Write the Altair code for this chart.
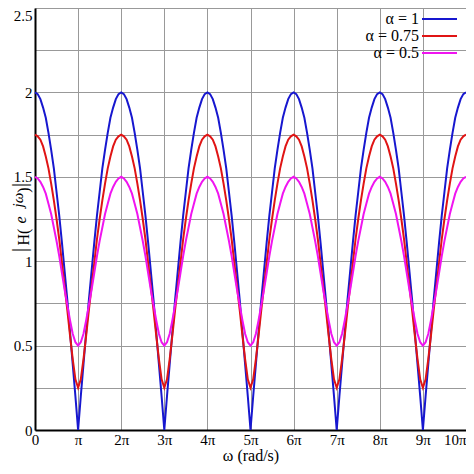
import altair as alt
import pandas as pd
import numpy as np

# omega / pi, sampled every pi/16 from 0 to 10pi
omega = np.arange(161) / 16

# |H(e^jw)|, two lines per 2pi period
mag_a1 = [
    2.00, 1.99, 1.96, 1.91, 1.85, 1.76, 1.66, 1.55, 1.41, 1.27, 1.11, 0.94, 0.77, 0.58, 0.39, 0.20,
    0.00, 0.20, 0.39, 0.58, 0.77, 0.94, 1.11, 1.27, 1.41, 1.55, 1.66, 1.76, 1.85, 1.91, 1.96, 1.99,
    2.00, 1.99, 1.96, 1.91, 1.85, 1.76, 1.66, 1.55, 1.41, 1.27, 1.11, 0.94, 0.77, 0.58, 0.39, 0.20,
    0.00, 0.20, 0.39, 0.58, 0.77, 0.94, 1.11, 1.27, 1.41, 1.55, 1.66, 1.76, 1.85, 1.91, 1.96, 1.99,
    2.00, 1.99, 1.96, 1.91, 1.85, 1.76, 1.66, 1.55, 1.41, 1.27, 1.11, 0.94, 0.77, 0.58, 0.39, 0.20,
    0.00, 0.20, 0.39, 0.58, 0.77, 0.94, 1.11, 1.27, 1.41, 1.55, 1.66, 1.76, 1.85, 1.91, 1.96, 1.99,
    2.00, 1.99, 1.96, 1.91, 1.85, 1.76, 1.66, 1.55, 1.41, 1.27, 1.11, 0.94, 0.77, 0.58, 0.39, 0.20,
    0.00, 0.20, 0.39, 0.58, 0.77, 0.94, 1.11, 1.27, 1.41, 1.55, 1.66, 1.76, 1.85, 1.91, 1.96, 1.99,
    2.00, 1.99, 1.96, 1.91, 1.85, 1.76, 1.66, 1.55, 1.41, 1.27, 1.11, 0.94, 0.77, 0.58, 0.39, 0.20,
    0.00, 0.20, 0.39, 0.58, 0.77, 0.94, 1.11, 1.27, 1.41, 1.55, 1.66, 1.76, 1.85, 1.91, 1.96, 1.99,
    2.00,
]
mag_a075 = [
    1.75, 1.74, 1.72, 1.68, 1.62, 1.55, 1.46, 1.36, 1.25, 1.13, 0.99, 0.85, 0.71, 0.56, 0.42, 0.30,
    0.25, 0.30, 0.42, 0.56, 0.71, 0.85, 0.99, 1.13, 1.25, 1.36, 1.46, 1.55, 1.62, 1.68, 1.72, 1.74,
    1.75, 1.74, 1.72, 1.68, 1.62, 1.55, 1.46, 1.36, 1.25, 1.13, 0.99, 0.85, 0.71, 0.56, 0.42, 0.30,
    0.25, 0.30, 0.42, 0.56, 0.71, 0.85, 0.99, 1.13, 1.25, 1.36, 1.46, 1.55, 1.62, 1.68, 1.72, 1.74,
    1.75, 1.74, 1.72, 1.68, 1.62, 1.55, 1.46, 1.36, 1.25, 1.13, 0.99, 0.85, 0.71, 0.56, 0.42, 0.30,
    0.25, 0.30, 0.42, 0.56, 0.71, 0.85, 0.99, 1.13, 1.25, 1.36, 1.46, 1.55, 1.62, 1.68, 1.72, 1.74,
    1.75, 1.74, 1.72, 1.68, 1.62, 1.55, 1.46, 1.36, 1.25, 1.13, 0.99, 0.85, 0.71, 0.56, 0.42, 0.30,
    0.25, 0.30, 0.42, 0.56, 0.71, 0.85, 0.99, 1.13, 1.25, 1.36, 1.46, 1.55, 1.62, 1.68, 1.72, 1.74,
    1.75, 1.74, 1.72, 1.68, 1.62, 1.55, 1.46, 1.36, 1.25, 1.13, 0.99, 0.85, 0.71, 0.56, 0.42, 0.30,
    0.25, 0.30, 0.42, 0.56, 0.71, 0.85, 0.99, 1.13, 1.25, 1.36, 1.46, 1.55, 1.62, 1.68, 1.72, 1.74,
    1.75,
]
mag_a05 = [
    1.50, 1.49, 1.47, 1.44, 1.40, 1.34, 1.28, 1.20, 1.12, 1.03, 0.93, 0.83, 0.74, 0.65, 0.57, 0.52,
    0.50, 0.52, 0.57, 0.65, 0.74, 0.83, 0.93, 1.03, 1.12, 1.20, 1.28, 1.34, 1.40, 1.44, 1.47, 1.49,
    1.50, 1.49, 1.47, 1.44, 1.40, 1.34, 1.28, 1.20, 1.12, 1.03, 0.93, 0.83, 0.74, 0.65, 0.57, 0.52,
    0.50, 0.52, 0.57, 0.65, 0.74, 0.83, 0.93, 1.03, 1.12, 1.20, 1.28, 1.34, 1.40, 1.44, 1.47, 1.49,
    1.50, 1.49, 1.47, 1.44, 1.40, 1.34, 1.28, 1.20, 1.12, 1.03, 0.93, 0.83, 0.74, 0.65, 0.57, 0.52,
    0.50, 0.52, 0.57, 0.65, 0.74, 0.83, 0.93, 1.03, 1.12, 1.20, 1.28, 1.34, 1.40, 1.44, 1.47, 1.49,
    1.50, 1.49, 1.47, 1.44, 1.40, 1.34, 1.28, 1.20, 1.12, 1.03, 0.93, 0.83, 0.74, 0.65, 0.57, 0.52,
    0.50, 0.52, 0.57, 0.65, 0.74, 0.83, 0.93, 1.03, 1.12, 1.20, 1.28, 1.34, 1.40, 1.44, 1.47, 1.49,
    1.50, 1.49, 1.47, 1.44, 1.40, 1.34, 1.28, 1.20, 1.12, 1.03, 0.93, 0.83, 0.74, 0.65, 0.57, 0.52,
    0.50, 0.52, 0.57, 0.65, 0.74, 0.83, 0.93, 1.03, 1.12, 1.20, 1.28, 1.34, 1.40, 1.44, 1.47, 1.49,
    1.50,
]

labels = ["α = 1", "α = 0.75", "α = 0.5"]
colors = ["#1717cf", "#e01414", "#f014f0"]

x_ticks = list(range(11))
y_ticks = [i * 0.25 for i in range(11)]

serif = "'Liberation Serif', 'Times New Roman', serif"

df = pd.concat([
    pd.DataFrame({"omega": omega, "mag": m, "alpha": lab})
    for m, lab in zip([mag_a1, mag_a075, mag_a05], labels)
])

lines = alt.Chart(df).mark_line(strokeWidth=2).encode(
    x=alt.X("omega:Q", scale=alt.Scale(domain=[0, 10], nice=False),
            axis=alt.Axis(values=x_ticks, title="ω (rad/s)",
                          labelExpr="datum.value == 0 ? '0' : datum.value == 1 ? 'π' : datum.value + 'π'",
                          labelAlign={"condition": {"test": "datum.value == 10", "value": "right"}, "value": "center"},
                          labelPadding=2, titlePadding=0)),
    y=alt.Y("mag:Q", scale=alt.Scale(domain=[0, 2.5], nice=False),
            axis=alt.Axis(values=y_ticks, title=None,
                          labelExpr="datum.value % 0.5 == 0 ? datum.value + '' : ''",
                          labelBaseline={"condition": {"test": "datum.value == 2.5", "value": "top"}, "value": "middle"},
                          labelPadding=3)),
    color=alt.Color("alpha:N", scale=alt.Scale(domain=labels, range=colors), legend=None),
)

one = pd.DataFrame({"k": [0]})

# legend: label on the left, line sample on the right
leg_y = [11, 28, 45]
legend = []
for lab, col, yy in zip(labels, colors, leg_y):
    legend.append(alt.Chart(one).mark_rule(color=col, strokeWidth=2).encode(
        x=alt.value(387), x2=alt.value(422), y=alt.value(yy)))
    legend.append(alt.Chart(one).mark_text(text=lab, align="right", baseline="middle",
                                           font=serif, fontSize=16, color="black").encode(
        x=alt.value(384), y=alt.value(yy)))

# y title |H(e^jω)| built from pieces, rotated
title_parts = [
    ("|", 20, "normal", -9, 242),
    ("H(", 16, "normal", -6, 229),
    ("e", 16, "italic", -9, 212),
    ("jω", 15, "italic", -12, 192),
    (")", 16, "normal", -6, 182),
    ("|", 20, "normal", -9, 177),
]
ytitle = []
for txt, size, style, xx, yy in title_parts:
    ytitle.append(alt.Chart(one).mark_text(text=txt, angle=270, align="center", baseline="alphabetic",
                                           font=serif, fontSize=size, fontStyle=style, color="black").encode(
        x=alt.value(xx), y=alt.value(yy)))

chart = alt.layer(lines, *legend, *ytitle).properties(
    width=431, height=422,
    autosize=alt.AutoSizeParams(type="none"),
    padding={"left": 27, "top": 0, "right": 0, "bottom": 36},
).configure_axis(
    labelFont=serif, labelFontSize=15, labelColor="black",
    titleFont=serif, titleFontSize=16, titleFontWeight="normal", titleColor="black",
    ticks=False, domainColor="black", domainWidth=2,
    gridColor="#999999", gridWidth=1, gridOpacity=1,
).configure_view(strokeWidth=0)

chart.save("out.html", embed_options={"renderer": "svg", "actions": False})
